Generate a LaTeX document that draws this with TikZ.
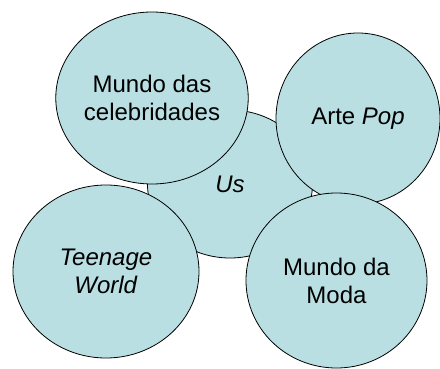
\documentclass[tikz,border=0pt]{standalone}
\usepackage{fontspec}
\setmainfont{Liberation Sans}
\usetikzlibrary{shapes.geometric}
\definecolor{bolha}{RGB}{185,223,226}

\begin{document}
\begin{tikzpicture}[x=1pt, y=-1pt,
	bola/.style={draw, ellipse, fill=bolha, line width=0.8pt, inner sep=0pt,
	align=center, font=\fontsize{24}{28}\selectfont}]
\useasboundingbox (0, 0) rectangle (440, 369);
\node[bola, minimum width=165pt, minimum height=148pt] (us) at (230, 184) {\textit{Us}};
\node[bola, minimum width=190pt, minimum height=172pt] (celeb) at (152, 98) {Mundo das\\celebridades};
\node[bola, minimum width=164pt, minimum height=171pt] (pop) at (358, 118.5) {Arte \textit{Pop}};
\node[bola, minimum width=186pt, minimum height=173pt] (teen) at (106, 271.5) {\textit{Teenage}\\\textit{World}};
\node[bola, minimum width=181pt, minimum height=175pt] (moda) at (336.5, 280.5) {Mundo da\\Moda};
\end{tikzpicture}
\end{document}
